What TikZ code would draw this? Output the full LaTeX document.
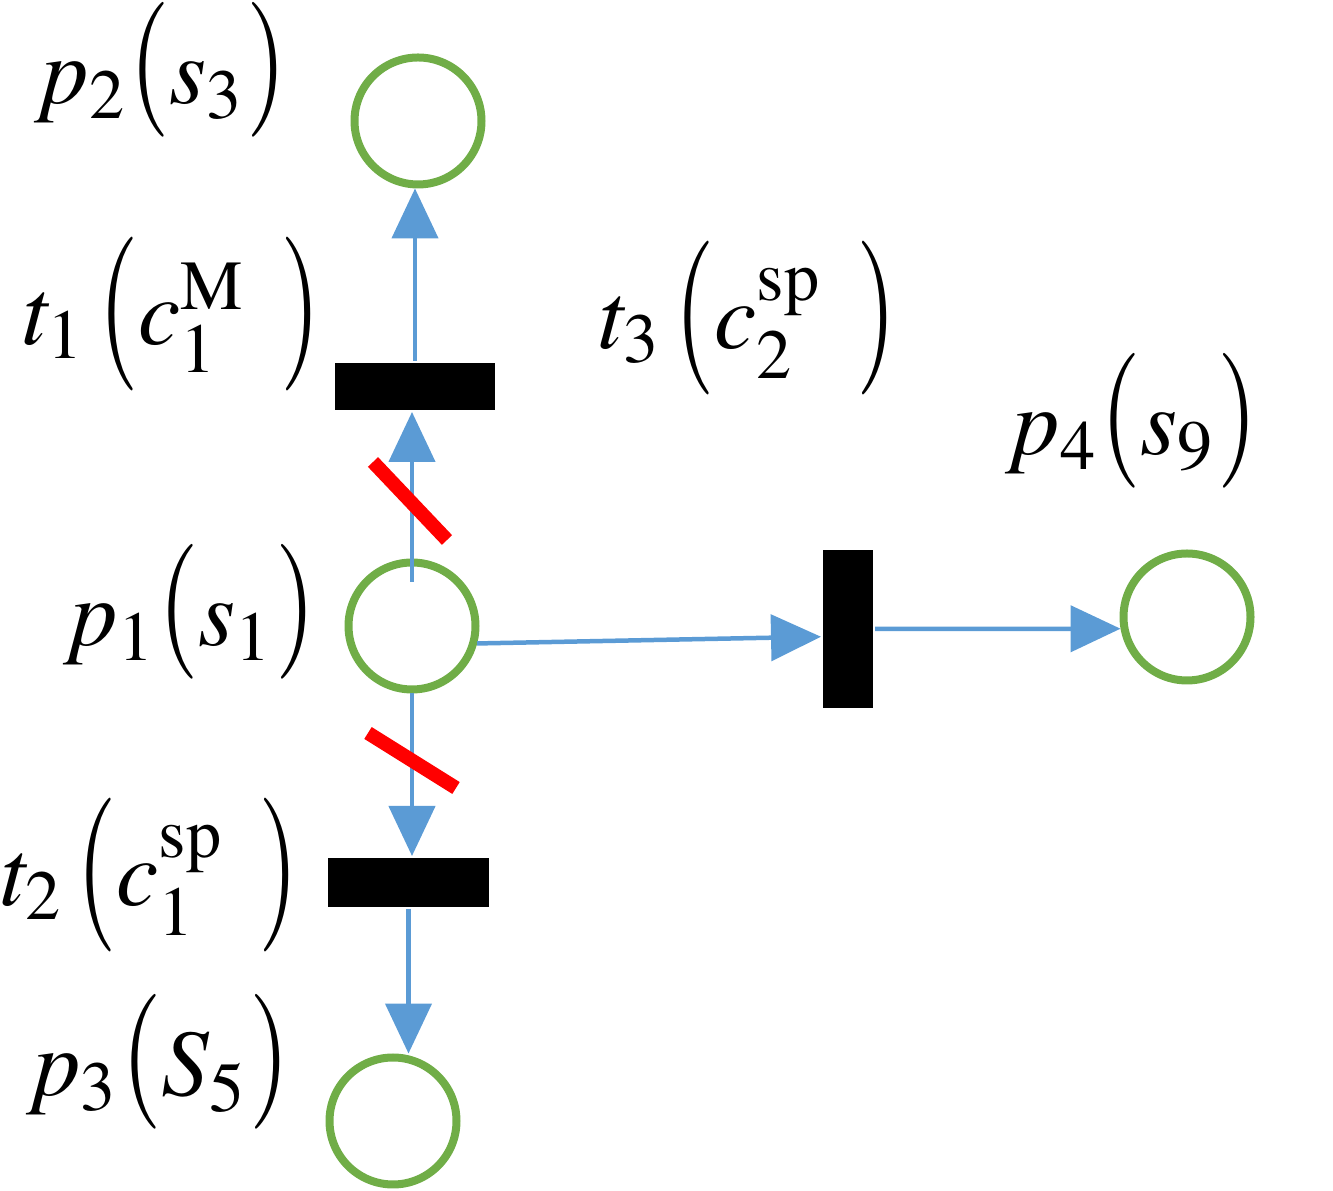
\documentclass[tikz,border=0pt]{standalone}
\usepackage{mathptmx}
\usepackage{graphicx}
\usetikzlibrary{arrows.meta}
\definecolor{pgreen}{HTML}{70AD47}
\definecolor{pblue}{HTML}{5B9BD5}
\newcommand{\pL}{\mathopen{\mbox{\scalebox{1.1}[1.42]{$($}}}}
\newcommand{\pR}{\mathclose{\mbox{\scalebox{1.1}[1.42]{$)$}}}}
\newcommand{\tL}{\mathopen{\mbox{\raisebox{-0.8pt}{\scalebox{1.1}[1.62]{$($}}}}}
\newcommand{\tR}{\mathclose{\mbox{\raisebox{-0.8pt}{\scalebox{1.1}[1.62]{$)$}}}}}
\begin{document}
\begin{tikzpicture}[x=0.1pt,y=-0.1pt,
  place/.style={circle, draw=pgreen, line width=0.8pt, minimum size=12.7pt, inner sep=0pt},
  trans/.style={rectangle, fill=black, inner sep=0pt},
  arc/.style={draw=pblue, line width=0.45pt, -{Triangle[width=4.6pt,length=5pt]}},
  slash/.style={draw=red, line width=1.4pt},
  lbl/.style={inner sep=0pt, font=\fontsize{9.5}{11}\selectfont}]
\useasboundingbox (0,0) rectangle (1333,1191);
% places
\node[place] (p2) at (418,121) {};
\node[place] (p1) at (412,626) {};
\node[place] (p3) at (393,1121) {};
\node[place] (p4) at (1187,617) {};
% transitions
\node[trans, minimum width=16pt, minimum height=4.7pt] (t1) at (415,386.5) {};
\node[trans, minimum width=16.1pt, minimum height=4.9pt] (t2) at (408.5,882.5) {};
\node[trans, minimum width=5pt, minimum height=15.8pt] (t3) at (848,629) {};
% labels
\node[lbl] (lp2) at (161,70) {$p_2\pL s_3\pR$};
\node[lbl] (lt1) at (172,314) {$t_{1}\,\tL c_1^{\mathrm{M}}\;\,\tR$};
\node[lbl] (lt3) at (748,318) {$t_{3}\,\tL c_2^{\mathrm{sp}}\;\,\tR$};
\node[lbl] (lp4) at (1132,421) {$p_4\pL s_9\pR$};
\node[lbl] (lp1) at (190,612) {$p_1\pL s_1\pR$};
\node[lbl] (lt2) at (150,875) {$t_{2}\,\tL c_1^{\mathrm{sp}}\;\,\tR$};
\node[lbl] (lp3) at (158,1062) {$p_3\pL S_5\pR$};
% arcs
\coordinate (s1) at (412,582);
\draw[arc] (t1.north) -- (t1.north |- p2.south);
\draw[arc] (s1) -- (s1 |- t1.south);
\draw[arc] (p1.south) -- (p1.south |- t2.north);
\draw[arc] (t2.south) -- (t2.south |- p3.north);
\draw[arc] (p1.-15) -- (t3.196);
\draw[arc] (t3.east) -- (p4.190);
% red slashes
\draw[slash] (373,462) -- (447,540);
\draw[slash] (368,733) -- (456,788);
\end{tikzpicture}
\end{document}
